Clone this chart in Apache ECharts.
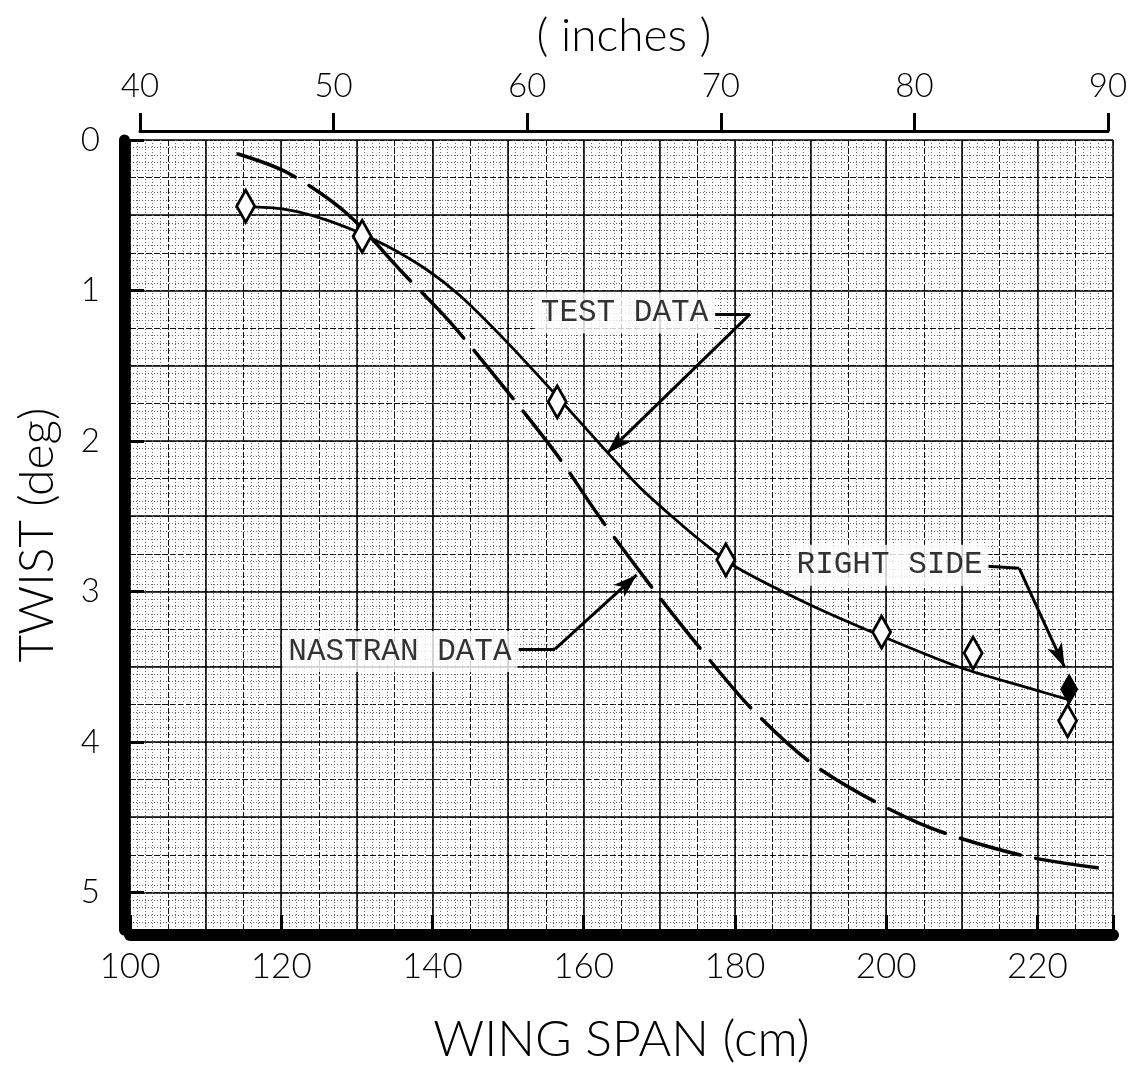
<!DOCTYPE html>
<html>
<head>
<meta charset="utf-8">
<script src="https://cdn.jsdelivr.net/npm/echarts@6/dist/echarts.min.js"></script>
<style>
  html, body { margin: 0; padding: 0; background: #fff; }
  #chart { width: 1132px; height: 1083px; }
</style>
</head>
<body>
<div id="chart"></div>
<script>
// ---- Data ----
// Test data points (open diamonds): wing span (cm), twist (deg)
const testCm    = [115.3, 130.7, 156.5, 178.8, 199.4, 211.5, 224.0];
const testTwist = [0.44, 0.64, 1.74, 2.79, 3.27, 3.41, 3.86];
// Right side point (filled diamond)
const rightCm    = [224.2];
const rightTwist = [3.65];
// Faired test-data curve
const testCurveCm    = [115.3, 120.3, 124.8, 129.5, 134.0, 139.3, 143.7, 149.6, 155.5, 163.1, 167.4, 171.8, 175.4, 180.2, 189.5, 198.2, 209.7, 219.9, 224.0];
const testCurveTwist = [0.443, 0.459, 0.512, 0.598, 0.705, 0.864, 1.037, 1.330, 1.649, 2.074, 2.307, 2.507, 2.660, 2.839, 3.078, 3.271, 3.504, 3.657, 3.717];
// NASTRAN curve (dashed)
const nastranCm    = [114.3, 120.9, 128.6, 136.1, 142.1, 148.9, 156.2, 162.4, 169.0, 175.4, 182.4, 190.9, 204.4, 217.9, 228.5];
const nastranTwist = [0.093, 0.219, 0.485, 0.884, 1.197, 1.609, 2.074, 2.527, 2.972, 3.378, 3.790, 4.169, 4.541, 4.754, 4.840];
// Axis tick labels
const cmLabels   = [100, 120, 140, 160, 180, 200, 220];
const inchTicks  = [40, 50, 60, 70, 80, 90];
const twistTicks = [0, 1, 2, 3, 4, 5];
// Annotations: text, text anchor (cm, deg), leader bend points, arrow tip
const annText  = ['TEST DATA', 'NASTRAN DATA', 'RIGHT SIDE'];
const annPos   = [[165.4, 1.15], [135.7, 3.40], [200.45, 2.826]];
const annStart = [[177.4, 1.157], [151.4, 3.384], [213.4, 2.832]];
const annBend  = [[182.0, 1.157], [156.2, 3.384], [217.6, 2.846]];
const annTip   = [[163.1, 2.081], [167.0, 2.890], [223.6, 3.504]];

const SANS = "Lato, 'Noto Sans', 'Liberation Sans', sans-serif";
const MONO = "'Courier New', 'Liberation Mono', 'DejaVu Sans Mono', monospace";

const zip = (a, b) => a.map((v, i) => [v, b[i]]);

const markLineData = [];
for (let i = 0; i < annText.length; i++) {
  markLineData.push([{ coord: annStart[i], symbol: 'none' }, { coord: annBend[i], symbol: 'none' }]);
  markLineData.push([{ coord: annBend[i], symbol: 'none' }, { coord: annTip[i], symbol: 'arrow', symbolSize: [12, 24] }]);
}

const hiddenAxisParts = {
  axisLine: { show: false }, axisTick: { show: false }, axisLabel: { show: false }
};

const option = {
  animation: false,
  backgroundColor: '#fff',
  grid: [
    { left: 130, right: 19, top: 140, bottom: 153 },
    { left: 140, right: 24, top: 121, height: 10 }
  ],
  xAxis: [
    {
      gridIndex: 0, type: 'value', position: 'bottom', min: 100, max: 230, interval: 20, offset: 5,
      axisLine: { show: true, onZero: false, lineStyle: { color: '#000', width: 12 } },
      axisTick: { show: true, inside: true, length: 20, lineStyle: { color: '#000', width: 3 } },
      axisLabel: {
        formatter: v => (cmLabels.indexOf(v) >= 0 ? String(v) : ''),
        fontSize: 35, fontWeight: 300, color: '#000', margin: 14, fontFamily: SANS
      },
      splitLine: { show: false },
      name: 'WING SPAN (cm)', nameLocation: 'middle', nameGap: 80,
      nameTextStyle: { fontSize: 50, fontWeight: 300, color: '#000', fontFamily: SANS }
    },
    Object.assign({
      gridIndex: 0, type: 'value', position: 'top', min: 100, max: 230, interval: 10,
      splitLine: { show: true, lineStyle: { color: '#000', width: 1.5 } }
    }, hiddenAxisParts),
    Object.assign({
      gridIndex: 0, type: 'value', position: 'bottom', min: 100, max: 230, interval: 5,
      splitLine: { show: true, lineStyle: { color: '#111', width: 1, type: [6, 2] } },
      minorTick: { show: false, splitNumber: 5 },
      minorSplitLine: { show: true, lineStyle: { color: '#666', width: 1, type: [1, 2] } }
    }, hiddenAxisParts),
    {
      gridIndex: 1, type: 'value', position: 'top', min: 40, max: 90, interval: 10,
      axisLine: { show: true, lineStyle: { color: '#000', width: 3 } },
      axisTick: { show: true, length: 18, lineStyle: { color: '#000', width: 3 } },
      axisLabel: {
        formatter: v => (inchTicks.indexOf(v) >= 0 ? String(v) : ''),
        fontSize: 33, fontWeight: 300, color: '#000', margin: 18, fontFamily: SANS
      },
      splitLine: { show: false },
      name: '( inches )', nameLocation: 'middle', nameGap: 62,
      nameTextStyle: { fontSize: 46, fontWeight: 300, color: '#000', fontFamily: SANS }
    }
  ],
  yAxis: [
    {
      gridIndex: 0, type: 'value', position: 'left', inverse: true, min: 0, max: 5.25, interval: 1, offset: 6,
      axisLine: { show: true, onZero: false, lineStyle: { color: '#000', width: 11 } },
      axisTick: { show: true, inside: true, length: 20, lineStyle: { color: '#000', width: 3 } },
      axisLabel: {
        formatter: v => (twistTicks.indexOf(v) >= 0 ? String(v) : ''),
        fontSize: 33, fontWeight: 300, color: '#000', margin: 24, fontFamily: SANS
      },
      splitLine: { show: false },
      name: 'TWIST (deg)', nameLocation: 'middle', nameGap: 62, nameRotate: 90,
      nameTextStyle: { fontSize: 48, fontWeight: 300, color: '#000', fontFamily: SANS }
    },
    Object.assign({
      gridIndex: 0, type: 'value', position: 'right', inverse: true, min: 0, max: 5.25, interval: 0.5,
      splitLine: { show: true, lineStyle: { color: '#000', width: 1.5 } }
    }, hiddenAxisParts),
    Object.assign({
      gridIndex: 0, type: 'value', position: 'left', inverse: true, min: 0, max: 5.25, interval: 0.25,
      splitLine: { show: true, lineStyle: { color: '#111', width: 1, type: [6, 2] } },
      minorTick: { show: false, splitNumber: 5 },
      minorSplitLine: { show: true, lineStyle: { color: '#666', width: 1, type: [1, 2] } }
    }, hiddenAxisParts),
    { gridIndex: 1, type: 'value', show: false, min: 0, max: 1 }
  ],
  series: [
    {
      name: 'NASTRAN DATA', type: 'line', xAxisIndex: 0, yAxisIndex: 0,
      data: zip(nastranCm, nastranTwist), showSymbol: false, smooth: 0.3, z: 3,
      lineStyle: { color: '#000', width: 3.5, type: [62, 16], cap: 'round' }
    },
    {
      name: 'TEST DATA curve', type: 'line', xAxisIndex: 0, yAxisIndex: 0,
      data: zip(testCurveCm, testCurveTwist), showSymbol: false, smooth: 0.3, z: 4,
      lineStyle: { color: '#000', width: 2.8 }
    },
    {
      name: 'TEST DATA', type: 'scatter', xAxisIndex: 0, yAxisIndex: 0,
      data: zip(testCm, testTwist), symbol: 'diamond', symbolSize: [18, 32], z: 6,
      itemStyle: { color: '#fff', borderColor: '#000', borderWidth: 3, opacity: 1 }
    },
    {
      name: 'RIGHT SIDE', type: 'scatter', xAxisIndex: 0, yAxisIndex: 0,
      data: zip(rightCm, rightTwist), symbol: 'diamond', symbolSize: [17, 30], z: 7,
      itemStyle: { color: '#000', borderColor: '#000', borderWidth: 1, opacity: 1 }
    },
    {
      name: 'annotations', type: 'scatter', xAxisIndex: 0, yAxisIndex: 0, z: 8, silent: true,
      data: annPos.map((p, i) => ({ value: p, name: annText[i] })), symbolSize: 0,
      label: {
        show: true, position: 'inside', formatter: p => p.name,
        fontFamily: MONO, fontSize: 31, color: '#000',
        backgroundColor: '#fff', padding: [5, 6]
      },
      markLine: {
        silent: true, animation: false, symbol: ['none', 'none'],
        label: { show: false },
        lineStyle: { color: '#000', width: 3, type: 'solid', opacity: 1 },
        data: markLineData
      }
    }
  ]
};

const chart = echarts.init(document.getElementById('chart'), null, { renderer: 'canvas' });
chart.setOption(option);
</script>
</body>
</html>
